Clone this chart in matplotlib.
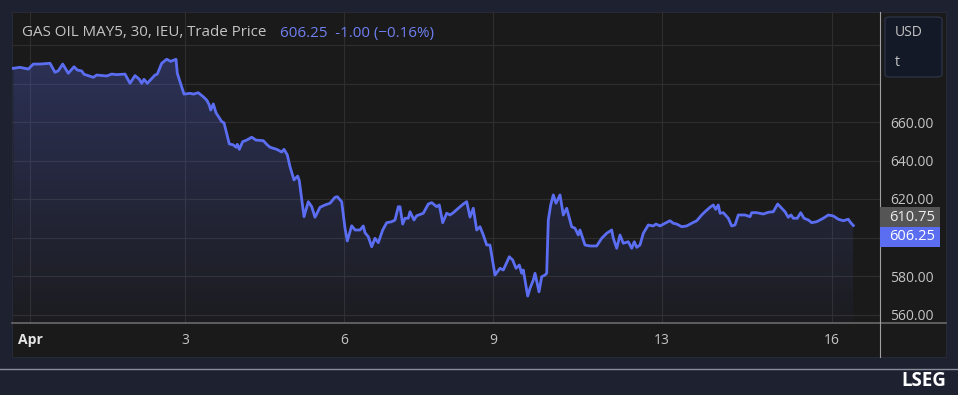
import numpy as np
import matplotlib
matplotlib.use("Agg")
import matplotlib.pyplot as plt
from matplotlib.patches import Rectangle, FancyBboxPatch
from matplotlib.lines import Line2D
from matplotlib.colors import LinearSegmentedColormap

plt.rcParams['font.family'] = ['Open Sans', 'DejaVu Sans']

# ---------------- data ----------------
bar_x = [13.3, 20, 28.3, 33.3, 40, 50, 55, 58.3, 62.7, 68.3, 74, 77.3, 81.7, 84, 93.3, 96.7,
         106.7, 111.7, 116.7, 125, 130, 135, 139.3, 141.7, 144, 147.3, 155, 157.3, 161.7, 166.7,
         170.7, 176, 177.3, 184, 190, 193.3, 198.3, 203.3, 206.7, 209.3, 210.7, 213.3, 216, 221.7,
         224, 229.3, 233.3, 236, 237.3, 239.3, 242.7, 246.7, 251.7, 256, 263.3, 266.7, 270, 276.7,
         281.7, 284, 287.3, 290, 294, 297.7, 299.3, 304, 308.3, 311.7, 315, 320, 325, 330, 335,
         337.3, 341.7, 345, 347.3, 351.7, 355, 360, 363.3, 365, 368.3, 371.7, 375, 378.3, 382.7,
         386.7, 391.7, 395, 398.3, 400, 402.7, 405, 408.3, 410, 414, 416.7, 423.3, 428.3, 431.7,
         436.7, 439.3, 442.7, 446.7, 450, 453.3, 458.3, 463.3, 466.7, 470, 473.3, 476.7, 480,
         483.3, 486.7, 490, 495, 500, 503.3, 509.3, 512.7, 516, 519.3, 521.7, 523.3, 527.7, 530,
         533.3, 535, 539, 541.7, 545, 546.7, 548.3, 550.7, 553.3, 556, 560, 563.3, 566.7, 571.7,
         575, 578.3, 580, 585, 590, 596.7, 601.7, 606.7, 611.7, 613.3, 616.7, 620, 623.3, 628.3,
         631.7, 634.3, 636.7, 640, 643.3, 648.3, 653.3, 656, 660, 665, 670, 673.3, 676.7, 681.7,
         686.7, 691.7, 696.7, 701.7, 705, 710, 713.3, 715.7, 718.3, 720, 723.3, 728.3, 731.7, 735,
         738.3, 745, 750, 751.7, 756.7, 763.3, 768.3, 773.3, 777.7, 781.7, 785, 788.3, 791, 793.3,
         797.3, 800.7, 804, 808.3, 811.7, 816.7, 823.3, 828.3, 833.3, 838.3, 843.3, 848.3, 850.7,
         853.3]
price = [687.9, 688.4, 687.5, 690.1, 690.1, 690.5, 685.8, 686.6, 690.1, 685.3, 688.7, 687.0, 686.5,
         684.8, 683.2, 684.4, 683.9, 684.9, 684.6, 684.9, 680.1, 684.1, 682.2, 680.1, 682.2, 680.1,
         684.4, 684.9, 690.5, 692.6, 691.5, 692.6, 685.3, 674.5, 674.9, 674.5, 675.2, 673.1, 671.4,
         668.8, 666.2, 669.4, 664.8, 660.2, 659.6, 648.6, 648.1, 646.9, 648.4, 645.8, 649.8, 650.6,
         652.1, 650.6, 650.3, 648.4, 646.9, 645.8, 644.4, 645.8, 642.9, 636.8, 629.9, 631.9, 629.5,
         610.8, 618.6, 616.0, 610.5, 615.7, 616.9, 617.8, 620.9, 621.2, 618.6, 604.8, 598.2, 606.1,
         603.9, 603.9, 606.0, 602.5, 600.4, 595.2, 599.6, 597.3, 603.9, 607.7, 608.2, 609.1, 616.0,
         616.0, 607.0, 610.0, 610.0, 613.4, 609.1, 611.3, 612.6, 617.4, 618.1, 616.0, 616.9, 607.7,
         612.6, 611.7, 612.9, 615.2, 617.4, 618.6, 610.6, 615.2, 603.9, 605.6, 601.3, 596.1, 596.1,
         580.5, 584.0, 583.1, 590.0, 588.3, 584.0, 585.7, 581.4, 583.1, 569.6, 573.6, 577.9, 581.4,
         571.8, 579.6, 580.5, 581.4, 609.1, 616.9, 622.1, 617.8, 622.1, 611.7, 615.2, 605.6, 604.8,
         601.3, 603.9, 596.1, 595.6, 595.6, 599.6, 602.2, 603.9, 599.6, 594.4, 601.3, 597.0, 597.8,
         594.4, 597.8, 594.9, 596.1, 602.2, 606.5, 606.0, 607.0, 606.0, 607.4, 608.7, 607.4, 607.0,
         605.6, 606.0, 607.4, 608.7, 611.7, 613.4, 615.7, 616.9, 614.6, 616.9, 612.6, 612.9, 610.0,
         606.0, 606.5, 611.7, 611.7, 610.8, 612.9, 612.9, 612.2, 613.1, 613.4, 617.4, 615.2, 613.4,
         610.5, 611.7, 610.0, 610.0, 612.9, 610.0, 609.1, 607.7, 608.2, 610.0, 611.7, 611.2, 609.5,
         608.7, 609.5, 607.7, 606.25]

tick_pos = [30, 185, 344, 493, 662, 832]
tick_labels = ['Apr', '3', '6', '9', '13', '16']
y_ticks = [560, 580, 600, 620, 640, 660, 680, 700]
y_labels = ['560.00', '580.00', '', '620.00', '640.00', '660.00', '', '']
last_price = 606.25
ref_price = 610.75
title_main = 'GAS OIL MAY5, 30, IEU, Trade Price'
title_quote = '606.25  -1.00 (\u22120.16%)'
unit_lines = ['USD', 't']

# ---------------- style ----------------
W, H = 958, 395
OUTER = '#1d2130'
PANEL = '#1a1a1a'
LINE = '#5b6ef2'
GRID = '#2e2e2e'
TXT = '#c4c4c4'

def fx(x):
    return x / W

def fy(y):
    return 1 - y / H

fig = plt.figure(figsize=(W / 100, H / 100), dpi=100, facecolor=OUTER)

# panel background
fig.add_artist(Rectangle((fx(12), fy(357)), fx(946) - fx(12), fy(12) - fy(357),
                         transform=fig.transFigure, facecolor=PANEL, edgecolor='#262a36',
                         linewidth=0.8, zorder=-5))

ax_left, ax_right, ax_top, ax_bot = 12, 880, 12, 323
ax = fig.add_axes([fx(ax_left), fy(ax_bot), fx(ax_right) - fx(ax_left), fy(ax_top) - fy(ax_bot)])
ax.set_facecolor('none')

ymin = 660 - (ax_bot - 122) / 1.925
ymax = 660 + (122 - ax_top) / 1.925
ax.set_xlim(ax_left, ax_right)
ax.set_ylim(ymin, ymax)

for s in ax.spines.values():
    s.set_visible(False)

ax.set_xticks(tick_pos)
ax.set_xticklabels([])
ax.set_yticks(y_ticks)
ax.yaxis.tick_right()
ax.set_yticklabels(y_labels)
ax.tick_params(axis='both', length=0)
ax.tick_params(axis='y', pad=7.5, labelsize=10, labelcolor=TXT)
ax.grid(True, color=GRID, linewidth=0.8)
ax.set_axisbelow(True)

# gradient fill
x = np.array(bar_x)
yv = np.array(price)
poly = ax.fill_between(x, yv, ymin, facecolor='none', edgecolor='none')
cmap = LinearSegmentedColormap.from_list('g', [(0.36, 0.43, 0.95, 0.03), (0.36, 0.43, 0.95, 0.28)])
grad = np.linspace(0, 1, 256).reshape(-1, 1)
im = ax.imshow(grad, extent=[x.min(), x.max(), ymin, max(price)], aspect='auto',
               origin='lower', cmap=cmap, zorder=1)
path = poly.get_paths()[0]
im.set_clip_path(path, transform=ax.transData)
ax.set_xlim(ax_left, ax_right)
ax.set_ylim(ymin, ymax)

ax.plot(x, yv, color=LINE, linewidth=2.0, zorder=3, solid_joinstyle='round')

# x labels
xt = ax.get_xaxis_transform()
for p, lab in zip(tick_pos, tick_labels):
    ax.text(p, -(340 - ax_bot) / (ax_bot - ax_top), lab, transform=xt, ha='center', va='center',
            fontsize=10, color='#e6e6e6' if lab == 'Apr' else TXT,
            fontweight='bold' if lab == 'Apr' else 'normal', clip_on=False)

# axis lines
fig.add_artist(Line2D([fx(12), fx(946)], [fy(323), fy(323)], transform=fig.transFigure,
                      color='#6a6a6a', linewidth=1.2))
fig.add_artist(Line2D([fx(880), fx(880)], [fy(12), fy(357)], transform=fig.transFigure,
                      color='#a0a0a0', linewidth=0.8))
# footer line
fig.add_artist(Line2D([0, 1], [fy(368.5), fy(368.5)], transform=fig.transFigure,
                      color='#8a8e98', linewidth=1.0))

# title
fig.text(fx(22), fy(33), title_main, color=TXT, fontsize=10.9, va='center', ha='left')
fig.text(fx(280), fy(33), title_quote, color='#6f80f2', fontsize=10.9, va='center', ha='left')

# unit box
fig.add_artist(FancyBboxPatch((fx(885), fy(77)), fx(942) - fx(885), fy(17) - fy(77),
                              boxstyle='round,pad=0,rounding_size=0.006',
                              transform=fig.transFigure, facecolor='#141927',
                              edgecolor='#2b3244', linewidth=1.0, zorder=2))
fig.text(fx(895), fy(33), unit_lines[0], color=TXT, fontsize=10, va='center', ha='left', zorder=3)
fig.text(fx(895), fy(62), unit_lines[1], color=TXT, fontsize=10, va='center', ha='left', zorder=3)

# price boxes
def price_box(y0, y1, face, label, tcolor):
    fig.add_artist(Rectangle((fx(880), fy(y1)), fx(940) - fx(880), fy(y0) - fy(y1),
                             transform=fig.transFigure, facecolor=face, edgecolor='none', zorder=2))
    fig.text(fx(912), fy((y0 + y1) / 2), label, color=tcolor, fontsize=10.5,
             va='center', ha='center', zorder=3)

price_box(207, 227, '#555555', f'{ref_price:.2f}', '#ececec')
price_box(227, 247, '#5b6ef2', f'{last_price:.2f}', '#ffffff')

# footer brand
fig.text(fx(946), fy(381), 'LSEG', color='white', fontsize=13.5, fontweight='bold',
         va='center', ha='right')

fig.savefig('out.png', dpi=100, facecolor=OUTER)
